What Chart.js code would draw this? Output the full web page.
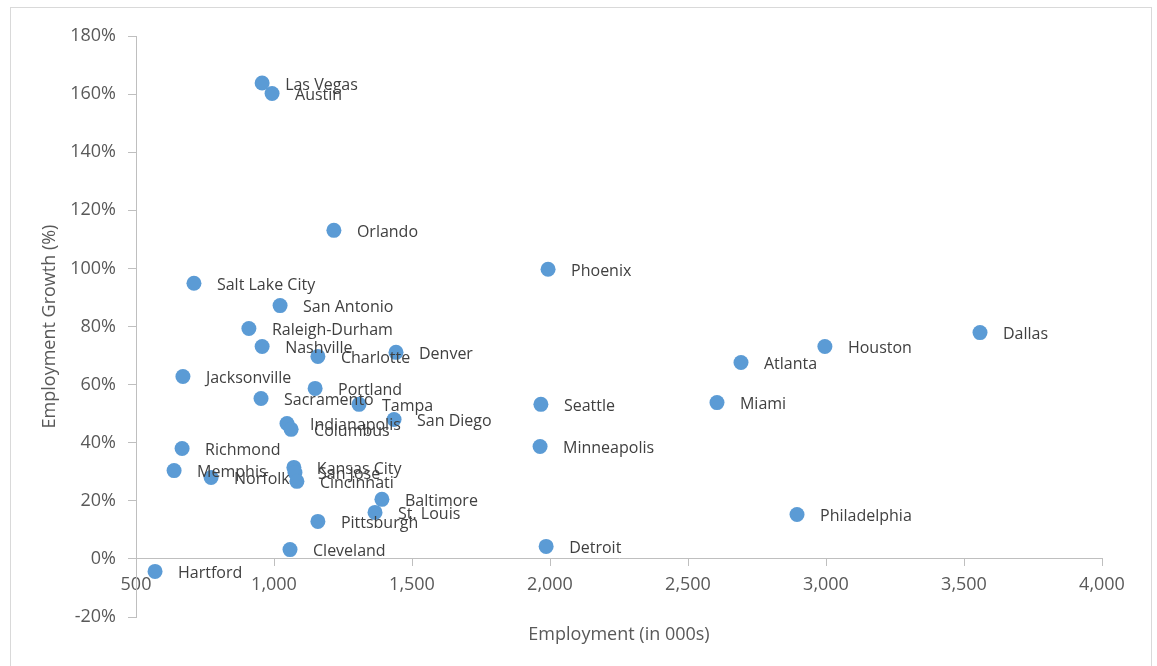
<!DOCTYPE html>
<html>
<head>
<meta charset="utf-8">
<title>Employment vs Employment Growth</title>
<script src="https://cdn.jsdelivr.net/npm/chart.js@4.4.1/dist/chart.umd.min.js"></script>
<style>
  html, body { margin: 0; padding: 0; background: #fff; }
  #wrap { width: 1157px; height: 666px; position: relative; }
</style>
</head>
<body>
<div id="wrap"><canvas id="chart"></canvas></div>
<script>
  /* ---------- Data ---------- */

  const cities = [
    'Las Vegas', 'Austin', 'Orlando', 'Phoenix', 'Salt Lake City', 'San Antonio',
    'Raleigh-Durham', 'Nashville', 'Charlotte', 'Denver', 'Dallas', 'Houston',
    'Atlanta', 'Jacksonville', 'Portland', 'Sacramento', 'Tampa', 'Seattle',
    'Miami', 'San Diego', 'Indianapolis', 'Columbus', 'Minneapolis', 'Richmond',
    'Memphis', 'Norfolk', 'Kansas City', 'San Jose', 'Cincinnati', 'Baltimore',
    'St. Louis', 'Pittsburgh', 'Philadelphia', 'Cleveland', 'Detroit', 'Hartford'
  ];

  // employment, in 000s
  const employment = [
    957, 993, 1217, 1993, 710, 1022,
    909, 957, 1159, 1442, 3558, 2996,
    2692, 670, 1149, 953, 1308, 1967,
    2605, 1435, 1047, 1062, 1964, 667,
    638, 772, 1072, 1076, 1083, 1391,
    1366, 1159, 2895, 1058, 1986, 569
  ];

  // employment growth, in %
  const growth = [
    163.8, 160.2, 113.1, 99.7, 94.9, 87.2,
    79.3, 73.1, 69.7, 71.1, 77.9, 73.1,
    67.6, 62.8, 58.7, 55.2, 53.2, 53.2,
    53.8, 48, 46.6, 44.6, 38.7, 38,
    30.4, 28, 31.5, 29.7, 26.7, 20.5,
    16, 12.9, 15.3, 3.2, 4.3, -4.3
  ];

  const xTickStep = 500;
  const yTickStep = 20;

  /* ---------- Plugins ---------- */

  const frame = {
    id: 'frame',
    beforeDraw(chart) {
      const ctx = chart.ctx;
      ctx.save();
      ctx.fillStyle = '#fff';
      ctx.fillRect(0, 0, chart.width, chart.height);
      ctx.strokeStyle = '#d9d9d9';
      ctx.lineWidth = 1;
      ctx.strokeRect(10.5, 7.5, 1141, 680);
      ctx.restore();
    }
  };

  const pointLabels = {
    id: 'pointLabels',
    afterDatasetsDraw(chart) {
      const ctx = chart.ctx;
      const meta = chart.getDatasetMeta(0);
      ctx.save();
      ctx.font = "16px 'Open Sans'";
      ctx.fillStyle = '#404040';
      ctx.textAlign = 'left';
      ctx.textBaseline = 'middle';
      meta.data.forEach((pt, i) => {
        ctx.fillText(cities[i], pt.x + 23, pt.y + 2);
      });
      ctx.restore();
    }
  };

  /* ---------- Chart ---------- */

  Chart.defaults.font.family = "'Open Sans', sans-serif";
  Chart.defaults.color = '#595959';

  new Chart(document.getElementById('chart'), {
    type: 'scatter',
    data: {
      datasets: [{
        label: 'Cities',
        data: cities.map((c, i) => ({ x: employment[i], y: growth[i] })),
        backgroundColor: '#5b9bd5',
        borderColor: '#5b9bd5',
        borderWidth: 0,
        pointRadius: 7.5,
        xAxisID: 'x0'
      }]
    },
    options: {
      responsive: true,
      maintainAspectRatio: false,
      animation: false,
      events: [],
      layout: { padding: { left: 35, top: 36, right: 55, bottom: 0 } },
      plugins: { legend: { display: false }, tooltip: { enabled: false } },
      scales: {
        x: {
          type: 'linear',
          position: 'bottom',
          min: 500,
          max: 4000,
          ticks: { display: false },
          grid: { display: false, drawTicks: false },
          border: { display: false },
          title: {
            display: true,
            text: 'Employment (in 000s)',
            color: '#595959',
            font: { size: 18 },
            padding: { top: 0, bottom: 20 }
          },
          afterFit(s) { s.height = 49; }
        },
        x0: {
          type: 'linear',
          position: { y: 0 },
          min: 500,
          max: 4000,
          ticks: {
            stepSize: xTickStep,
            color: '#595959',
            font: { size: 18 },
            padding: 8,
            maxRotation: 0,
            autoSkip: false,
            callback: (v) => v.toLocaleString('en-US')
          },
          grid: { drawOnChartArea: false, tickLength: 7, color: '#bfbfbf' },
          border: { color: '#bfbfbf' }
        },
        y: {
          min: -20,
          max: 180,
          ticks: {
            stepSize: yTickStep,
            color: '#595959',
            font: { size: 18 },
            padding: 12,
            callback: (v) => v + '%'
          },
          grid: { drawOnChartArea: false, tickLength: 8, color: '#bfbfbf' },
          border: { color: '#bfbfbf' },
          title: {
            display: true,
            text: 'Employment Growth (%)',
            color: '#595959',
            font: { size: 18 },
            padding: { top: 4, bottom: 4 }
          },
          afterFit(s) { s.width = 101; }
        }
      }
    },
    plugins: [frame, pointLabels]
  });
</script>
</body>
</html>
